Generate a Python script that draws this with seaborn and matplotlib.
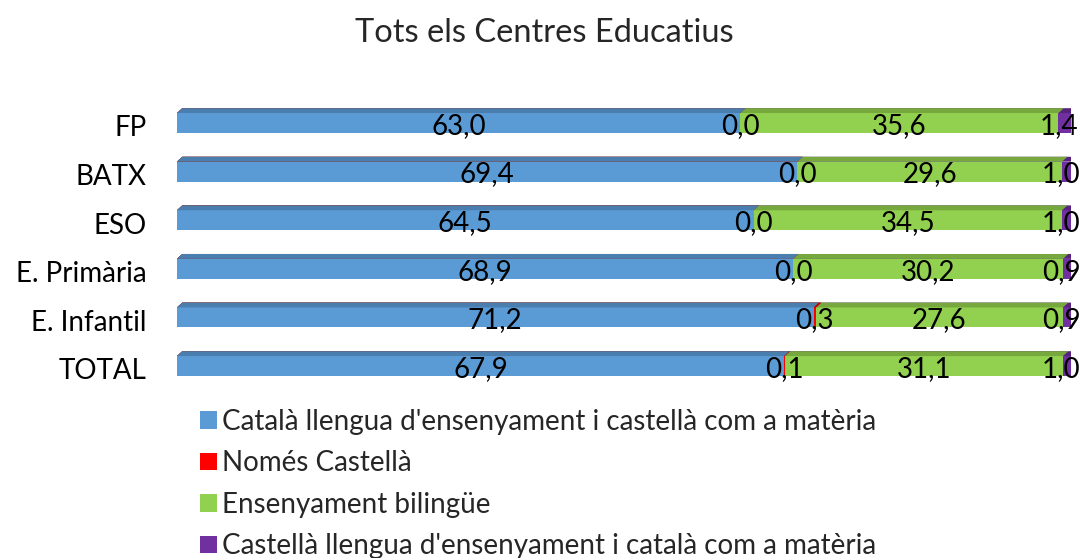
import matplotlib
matplotlib.use("Agg")
import matplotlib.pyplot as plt
import matplotlib.transforms as mtransforms
from matplotlib.patches import Polygon, Patch
import seaborn as sns
import pandas as pd
import numpy as np

categories = ["FP", "BATX", "ESO", "E. Primària", "E. Infantil", "TOTAL"]
catala = [63.0, 69.4, 64.5, 68.9, 71.2, 67.9]
castella_only = [0.0, 0.0, 0.0, 0.0, 0.3, 0.1]
bilingue = [35.6, 29.6, 34.5, 30.2, 27.6, 31.1]
castella = [1.4, 1.0, 1.0, 0.9, 0.9, 1.0]

series_names = [
    "Català llengua d'ensenyament i castellà com a matèria",
    "Només Castellà",
    "Ensenyament bilingüe",
    "Castellà llengua d'ensenyament i català com a matèria",
]
series = [catala, castella_only, bilingue, castella]
colors = ["#5B9BD5", "#FF0000", "#92D050", "#7030A0"]
dark = ["#4A7EAE", "#C00000", "#76A83E", "#57237F"]

sns.set_theme(style="white")
plt.rcParams["font.family"] = ["Lato", "DejaVu Sans"]

fig = plt.figure(figsize=(10.83, 5.58), dpi=100)
ax = fig.add_axes([0.1634, 0.3005, 0.8255, 0.5226])

vals = np.array(series)
cums = np.cumsum(vals, axis=0)
bar_h = 0.41
bev = 0.1
dx = 0.6

# draw cumulative bars from largest to smallest so they stack visually
for i in range(len(series) - 1, -1, -1):
    df = pd.DataFrame({"cat": categories, "val": cums[i]})
    n_before = len(ax.patches)
    sns.barplot(data=df, y="cat", x="val", orient="h", color=colors[i],
                width=bar_h, saturation=1, ax=ax, linewidth=0, errorbar=None)
    new = ax.patches[n_before:]
    for p in new:
        x0, x1 = p.get_x(), p.get_x() + p.get_width()
        y0 = p.get_y()
        h = p.get_height()
        top = Polygon([(x0, y0), (x0 + dx, y0 - bev), (x1 + dx, y0 - bev), (x1, y0)],
                      closed=True, facecolor=dark[i], edgecolor="none")
        ax.add_patch(top)
        if i == len(series) - 1:
            side = Polygon([(x1, y0), (x1 + dx, y0 - bev), (x1 + dx, y0 + h - bev), (x1, y0 + h)],
                           closed=True, facecolor=dark[i], edgecolor="none")
            ax.add_patch(side)

# value labels
for j in range(len(categories)):
    left = 0.0
    for i in range(len(series)):
        v = vals[i][j]
        shift = -6 if i == len(series) - 1 else 0
        ax.annotate(f"{v:.1f}".replace(".", ","), xy=(left + v / 2, j + 0.06),
                    xytext=(shift, 0), textcoords="offset pixels",
                    ha="center", va="center", fontsize=20, color="black",
                    annotation_clip=False)
        left += v

ax.set_xlim(0, 100)
ax.set_ylim(5.5, -0.5)
ax.set_xlabel("")
ax.set_ylabel("")
ax.set_xticks([])
ax.set_yticks(range(len(categories)))
ax.set_yticklabels([])
ax.tick_params(axis="y", length=0)
trans = mtransforms.blended_transform_factory(ax.transAxes, ax.transData)
for j, c in enumerate(categories):
    ax.text(-30 / 894, j + 0.11, c, transform=trans, ha="right", va="center",
            fontsize=20, color="black")
for s in ax.spines.values():
    s.set_visible(False)

fig.suptitle("Tots els Centres Educatius", x=0.503, y=0.967, fontsize=23.5)

handles = [Patch(facecolor=c, edgecolor="none") for c in colors]
fig.legend(handles, series_names, loc="upper left",
           bbox_to_anchor=(200 / 1083, 1 - 409 / 558), frameon=False,
           fontsize=20, handlelength=0.6, handleheight=0.6, handletextpad=0.2,
           labelspacing=0.555, borderaxespad=0, borderpad=0)

fig.savefig("out.png", dpi=100)
